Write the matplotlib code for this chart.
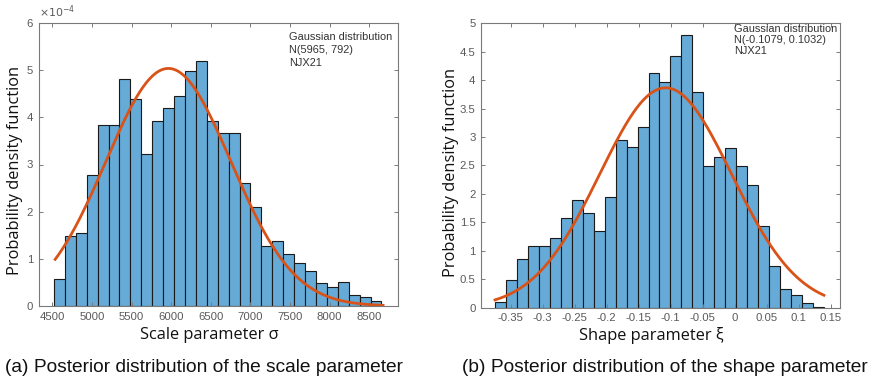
import numpy as np
import matplotlib
matplotlib.use("Agg")
from matplotlib import pyplot as plt

# left panel: scale parameter sigma (density in units of 1e-4)
scale_bin_start = 4521
scale_bin_width = 137.8
scale_density = [0.57, 1.48, 1.55, 2.77, 3.84, 3.84, 4.82, 4.39, 3.23, 3.93,
                 4.19, 4.45, 4.98, 5.19, 3.93, 3.66, 3.66, 2.61, 2.09, 1.27,
                 1.37, 1.10, 0.91, 0.74, 0.49, 0.40, 0.51, 0.24, 0.20, 0.11]
scale_mu, scale_sd = 5965, 792
scale_xticks = [4500, 5000, 5500, 6000, 6500, 7000, 7500, 8000, 8500]
scale_yticks = [0, 1, 2, 3, 4, 5, 6]

# right panel: shape parameter xi
shape_bin_start = -0.3745
shape_bin_width = 0.01713
shape_density = [0.10, 0.48, 0.86, 1.09, 1.09, 1.22, 1.58, 1.89, 1.66, 1.35,
                 1.95, 2.95, 2.83, 3.18, 4.13, 3.97, 4.43, 4.79, 3.80, 2.49,
                 2.65, 2.81, 2.49, 2.16, 1.43, 0.73, 0.33, 0.22, 0.08, 0.01]
shape_mu, shape_sd = -0.1079, 0.1032
shape_xticks = [-0.35, -0.3, -0.25, -0.2, -0.15, -0.1, -0.05, 0, 0.05, 0.1, 0.15]
shape_xticklabels = ["-0.35", "-0.3", "-0.25", "-0.2", "-0.15", "-0.1", "-0.05",
                     "0", "0.05", "0.1", "0.15"]
shape_yticks = [0, 0.5, 1, 1.5, 2, 2.5, 3, 3.5, 4, 4.5, 5]
shape_yticklabels = ["0", "0.5", "1", "1.5", "2", "2.5", "3", "3.5", "4", "4.5", "5"]

BAR = "#66aad7"
CURVE = "#d95319"
FRAME = "#7a7a7a"
TICKC = "#5a5a5a"

plt.rcParams["font.family"] = ["Liberation Sans", "DejaVu Sans"]

fig = plt.figure(figsize=(8.78, 3.79), dpi=100)
W, H = 878, 379


def box(l, t, r, b):
    return [l / W, 1 - b / H, (r - l) / W, (b - t) / H]


def gauss(x, mu, sd, scale=1.0):
    return np.exp(-0.5 * ((x - mu) / sd) ** 2) / (sd * np.sqrt(2 * np.pi)) * scale


def style(ax):
    for s in ax.spines.values():
        s.set_color(FRAME)
        s.set_linewidth(0.8)
    ax.tick_params(direction="in", length=3, width=0.7, color=FRAME,
                   labelcolor=TICKC, labelsize=8.2, top=True, right=True, pad=4)


# ---- (a) scale parameter
ax1 = fig.add_axes(box(38.7, 23, 397.7, 306))
edges = scale_bin_start + scale_bin_width * np.arange(len(scale_density) + 1)
ax1.bar(edges[:-1], scale_density, width=scale_bin_width, align="edge",
        color=BAR, edgecolor="#1a1a1a", linewidth=0.8)
xs = np.linspace(edges[0] + 15, edges[-1] + 20, 300)
ax1.plot(xs, gauss(xs, scale_mu, scale_sd, 1e4), color=CURVE, lw=2)
ax1.set_xlim(4328, 8860)
ax1.set_ylim(0, 6)
ax1.set_xticks(scale_xticks)
ax1.set_yticks(scale_yticks)
style(ax1)
ax1.text(0.0, 1.012, r"$\times10^{-4}$", transform=ax1.transAxes, fontsize=7.8,
         color=TICKC, ha="left", va="bottom")
ax1.text(0.697, 0.968, "Gaussian distribution\nN(5965, 792)\nNJX21",
         transform=ax1.transAxes, fontsize=7.9, color="#333333",
         ha="left", va="top", linespacing=1.4)

# ---- (b) shape parameter
ax2 = fig.add_axes(box(481, 23.3, 840, 307.7))
edges = shape_bin_start + shape_bin_width * np.arange(len(shape_density) + 1)
ax2.bar(edges[:-1], shape_density, width=shape_bin_width, align="edge",
        color=BAR, edgecolor="#1a1a1a", linewidth=0.8)
xs = np.linspace(edges[0], edges[-1], 300)
ax2.plot(xs, gauss(xs, shape_mu, shape_sd), color=CURVE, lw=2)
ax2.set_xlim(-0.3964, 0.1645)
ax2.set_ylim(0, 5)
ax2.set_xticks(shape_xticks)
ax2.set_xticklabels(shape_xticklabels)
ax2.set_yticks(shape_yticks)
ax2.set_yticklabels(shape_yticklabels)
style(ax2)
ax2.text(0.706, 0.998, "Gaussian distribution\nN(-0.1079, 0.1032)\nNJX21",
         transform=ax2.transAxes, fontsize=7.9, color="#333333",
         ha="left", va="top", linespacing=1.15)

# axis labels and captions
lab = dict(family=["Open Sans", "DejaVu Sans"], fontsize=11.8, color="#111111")
fig.text(15 / W, 1 - 170 / H, "Probability density function", rotation=90,
         ha="center", va="center", **lab)
fig.text(451 / W, 1 - 172 / H, "Probability density function", rotation=90,
         ha="center", va="center", **lab)
fig.text(209 / W, 1 - 335 / H, "Scale parameter σ", ha="center", va="center", **lab)
fig.text(651 / W, 1 - 335 / H, "Shape parameter ξ", ha="center", va="center", **lab)

cap = dict(fontsize=13.8, color="#111111", va="center")
fig.text(5 / W, 1 - 367 / H, "(a) Posterior distribution of the scale parameter",
         ha="left", **cap)
fig.text(462 / W, 1 - 367 / H, "(b) Posterior distribution of the shape parameter",
         ha="left", **cap)

fig.savefig("out.png", dpi=100)
